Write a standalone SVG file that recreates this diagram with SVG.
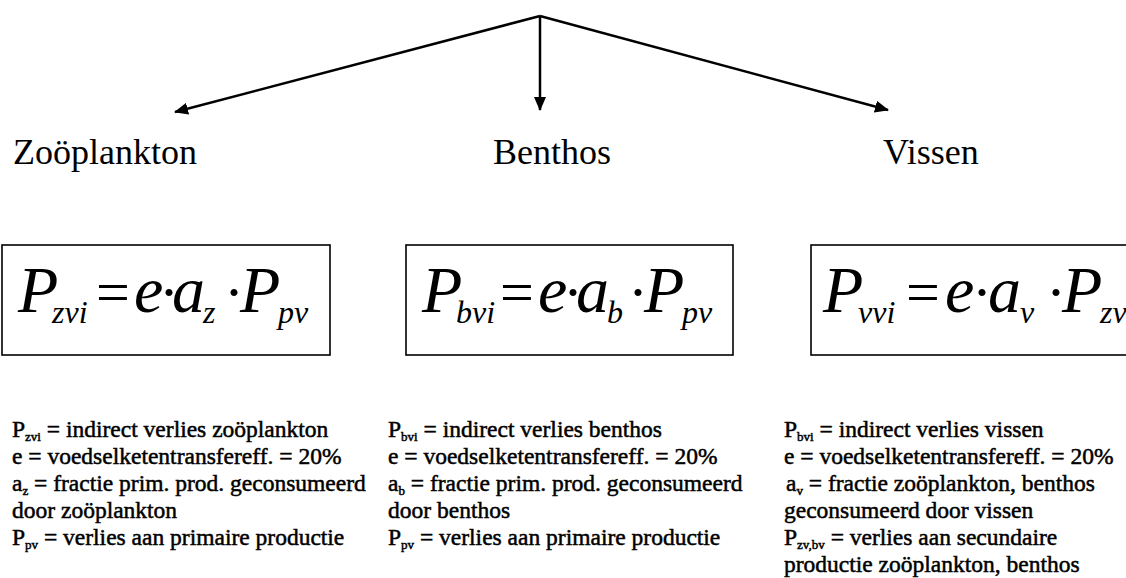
<svg xmlns="http://www.w3.org/2000/svg" width="1126" height="578" viewBox="0 0 1126 578">
<style>
text{font-family:'Liberation Serif','Times New Roman',serif;fill:#000}
.title{font-size:36px}
.eq{font-size:66px;font-style:italic}
.op{font-style:normal;font-size:60px}
.sub{font-size:32px}
.d{font-size:23.5px;stroke:#000;stroke-width:0.5px}
.ds{font-size:13px}
.box{fill:none;stroke:#000;stroke-width:1.6}
.conn{stroke:#000;stroke-width:2.5;fill:none}
</style>
<defs>
<marker id="ah" markerUnits="userSpaceOnUse" markerWidth="14" markerHeight="12" refX="13" refY="6" orient="auto">
<path d="M0,0 L14,6 L0,12 z" fill="#000"/>
</marker>
</defs>
<rect width="1126" height="578" fill="#fff"/>
<g id="connectors">
<line class="conn" x1="540" y1="16" x2="175" y2="112" marker-end="url(#ah)"/>
<line class="conn" x1="540" y1="16" x2="540" y2="110" marker-end="url(#ah)"/>
<line class="conn" x1="540" y1="16" x2="888" y2="110" marker-end="url(#ah)"/>
</g>
<g id="zooplankton">
<text class="title" x="13" y="164">Zoöplankton</text>
<rect class="box" x="2" y="245" width="328" height="110"/>
<text class="eq" y="312"><tspan x="18">P</tspan><tspan class="sub" x="52" y="323">zvi</tspan><tspan class="op" x="96" y="312">=</tspan><tspan x="134">e</tspan><tspan class="op" x="159">·</tspan><tspan x="172">a</tspan><tspan class="sub" x="203" y="323">z</tspan><tspan class="op" x="224" y="312">·</tspan><tspan x="240">P</tspan><tspan class="sub" x="278" y="323">pv</tspan></text>
<text class="d" x="12" y="437">P<tspan class="ds" dy="4">zvi</tspan><tspan dy="-4"> = indirect verlies zoöplankton</tspan></text>
<text class="d" x="12" y="464">e = voedselketentransfereff. = 20%</text>
<text class="d" x="12" y="491">a<tspan class="ds" dy="4">z</tspan><tspan dy="-4"> = fractie prim. prod.  geconsumeerd</tspan></text>
<text class="d" x="12" y="518">door zoöplankton</text>
<text class="d" x="12" y="545">P<tspan class="ds" dy="4">pv</tspan><tspan dy="-4"> = verlies aan primaire productie</tspan></text>
</g>
<g id="benthos">
<text class="title" x="493" y="164">Benthos</text>
<rect class="box" x="406" y="245" width="327" height="110"/>
<text class="eq" y="312"><tspan x="422">P</tspan><tspan class="sub" x="456" y="323">bvi</tspan><tspan class="op" x="500" y="312">=</tspan><tspan x="538">e</tspan><tspan class="op" x="563">·</tspan><tspan x="576">a</tspan><tspan class="sub" x="607" y="323">b</tspan><tspan class="op" x="628" y="312">·</tspan><tspan x="644">P</tspan><tspan class="sub" x="682" y="323">pv</tspan></text>
<text class="d" x="388" y="437">P<tspan class="ds" dy="4">bvi</tspan><tspan dy="-4"> = indirect verlies benthos</tspan></text>
<text class="d" x="388" y="464">e = voedselketentransfereff. = 20%</text>
<text class="d" x="388" y="491">a<tspan class="ds" dy="4">b</tspan><tspan dy="-4"> = fractie prim. prod.  geconsumeerd</tspan></text>
<text class="d" x="388" y="518">door benthos</text>
<text class="d" x="388" y="545">P<tspan class="ds" dy="4">pv</tspan><tspan dy="-4"> = verlies aan primaire productie</tspan></text>
</g>
<g id="vissen">
<text class="title" x="883" y="164">Vissen</text>
<rect class="box" x="811" y="245" width="330" height="110"/>
<text class="eq" y="312"><tspan x="823">P</tspan><tspan class="sub" x="858" y="323">vvi</tspan><tspan class="op" x="906" y="312">=</tspan><tspan x="945">e</tspan><tspan class="op" x="972">·</tspan><tspan x="988">a</tspan><tspan class="sub" x="1020" y="323">v</tspan><tspan class="op" x="1046" y="312">·</tspan><tspan x="1062">P</tspan><tspan class="sub" x="1100" y="323">zv</tspan></text>
<text class="d" x="784" y="437">P<tspan class="ds" dy="4">bvi</tspan><tspan dy="-4"> = indirect verlies vissen</tspan></text>
<text class="d" x="784" y="464">e = voedselketentransfereff. = 20%</text>
<text class="d" x="786" y="491">a<tspan class="ds" dy="4">v</tspan><tspan dy="-4"> = fractie zoöplankton, benthos</tspan></text>
<text class="d" x="784" y="518">geconsumeerd door vissen</text>
<text class="d" x="784" y="545">P<tspan class="ds" dy="4">zv,bv</tspan><tspan dy="-4"> = verlies aan secundaire</tspan></text>
<text class="d" x="784" y="572">productie zoöplankton, benthos</text>
</g>
</svg>
